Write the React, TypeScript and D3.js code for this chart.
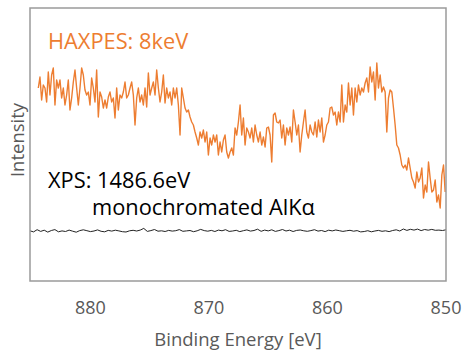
import React from "react";
import * as d3 from "d3";

// Binding energy axis
const X_DOMAIN: [number, number] = [885.1, 850];
const X_TICKS = [880, 870, 860, 850];
const Y_DOMAIN: [number, number] = [0, 273];

// HAXPES 8 keV spectrum (uniform energy grid)
const HAXPES_START = 884.4;
const HAXPES_STEP = 0.1407;
const HAXPES_VALUES = [
  193, 204, 181, 196, 193, 179, 209, 186, 206, 213,
  176, 201, 193, 201, 183, 193, 176, 186, 201, 171,
  183, 199, 211, 193, 176, 193, 213, 206, 191, 186,
  189, 176, 203, 193, 179, 211, 164, 189, 184, 173,
  181, 173, 184, 189, 179, 183, 163, 193, 171, 186,
  183, 189, 199, 183, 186,
  193, 199, 186, 156, 183, 193, 179, 186, 176, 193,
  174, 208, 186, 193, 199, 186, 211, 193, 179, 189,
  206, 178, 193, 183, 189, 176, 193, 183, 193, 176,
  146, 193, 183, 173, 169, 171, 164, 159, 156, 149,
  143, 136, 149, 143, 151, 139, 149, 126, 143, 136,
  146, 139, 146, 126, 139, 129, 141, 146, 129, 123,
  129, 133, 126, 153, 146, 159, 176, 146, 163, 136,
  153, 149, 143, 153, 139, 156, 146, 139, 149, 136,
  144, 134, 153, 154, 146, 119, 166, 168, 159, 158,
  161, 143, 156, 136, 153, 146, 154, 139, 171, 159,
  146, 156, 129, 146, 159, 171, 149, 143, 156, 149,
  146, 159, 144, 161, 149, 163, 139, 146, 156, 159,
  173, 174, 166,
  169, 156, 169, 159, 196, 159, 176, 169, 198, 176,
  193, 166, 193, 179, 196, 186, 193, 189, 198, 203,
  189, 214, 199, 209, 181, 218, 193,
  206, 189, 194, 189, 149, 183, 191, 189, 173, 156,
  136, 133, 126, 116, 113, 116, 111, 123, 113, 103,
  99, 93, 109, 99, 103, 113, 83, 96, 89, 119,
  103, 89, 91, 101, 79, 86, 73, 106, 116, 89,
];

// XPS 1486.6 eV (monochromated Al Kα) spectrum
const XPS_START = 885.1;
const XPS_STEP = 0.3;
const XPS_VALUES = [
  50.2, 49.1, 51.3, 49.6, 50.8, 48.9, 50.5, 51.4, 49.2, 50.1,
  49.5, 50.9, 49.8, 48.8, 50.4, 51.2, 50.3, 49.4, 50.0, 51.1,
  49.7, 49.2, 50.6, 49.9, 50.8, 50.1, 49.3, 49.0, 50.2, 50.7,
  50.0, 50.9, 52.6, 49.6, 50.4, 51.5, 49.8, 50.2, 49.5, 50.6,
  49.9, 50.3, 51.4, 49.7, 50.1, 50.5, 49.3, 50.2, 51.6, 50.4,
  49.8, 50.6, 49.5, 50.9, 50.2, 51.3, 49.6, 50.0, 50.7, 49.4,
  50.3, 51.1, 49.9, 50.5, 51.8, 49.7, 50.9, 50.1, 51.2, 49.6,
  50.4, 51.5, 50.0, 50.8, 49.5, 50.6, 51.0, 50.2, 49.7, 50.4,
  51.3, 49.9, 50.5, 49.4, 50.8, 50.1, 51.0, 50.3, 49.6, 50.2,
  50.7, 49.8, 50.4, 49.1, 49.5, 50.3, 49.2, 50.0, 50.6, 49.7,
  50.2, 49.4, 50.5, 51.2, 50.0, 52.0, 50.6, 51.7, 50.9, 51.9,
  50.4, 51.5, 50.8, 51.6, 50.7, 50.9, 50.5, 51.2,
];

const ANNOT_HAXPES = "HAXPES: 8keV";
const ANNOT_XPS_1 = "XPS: 1486.6eV";
const ANNOT_XPS_2 = "monochromated AlKα";
const X_TITLE = "Binding Energy [eV]";
const Y_TITLE = "Intensity";

const W = 462;
const H = 356;
const M = { left: 30, right: 446, top: 8, bottom: 281 };
const FONT = "'Open Sans', 'Noto Sans', sans-serif";
const ORANGE = "#ED7D31";
const GREY = "#595959";

export default function App() {
  const x = d3.scaleLinear().domain(X_DOMAIN).range([M.left, M.right]);
  const y = d3.scaleLinear().domain(Y_DOMAIN).range([M.bottom, M.top]);

  const haxpes: [number, number][] = HAXPES_VALUES.map((v, i) => [HAXPES_START - i * HAXPES_STEP, v]);
  const xps: [number, number][] = XPS_VALUES.map((v, i) => [XPS_START - i * XPS_STEP, v]);

  const line = d3
    .line<[number, number]>()
    .x((d) => x(d[0]))
    .y((d) => y(d[1]));

  return (
    <svg
      width={W}
      height={H}
      style={{ position: "absolute", left: 0, top: 0, background: "#fff" }}
      fontFamily={FONT}
    >
      <defs>
        <clipPath id="plotclip">
          <rect x={M.left} y={M.top} width={M.right - M.left} height={M.bottom - M.top} />
        </clipPath>
      </defs>
      <g clipPath="url(#plotclip)">
        <path d={line(xps) ?? ""} fill="none" stroke="#222" strokeWidth={1} />
        <path d={line(haxpes) ?? ""} fill="none" stroke={ORANGE} strokeWidth={1.4} strokeLinejoin="round" />
      </g>
      <rect
        x={M.left}
        y={M.top}
        width={M.right - M.left}
        height={M.bottom - M.top}
        fill="none"
        stroke="#9a9a9a"
        strokeWidth={1.5}
      />
      {X_TICKS.map((t) => (
        <text key={t} x={x(t)} y={314} textAnchor="middle" fontSize={18} fill={GREY}>
          {t}
        </text>
      ))}
      <text x={238} y={346} textAnchor="middle" fontSize={18.5} fill={GREY}>
        {X_TITLE}
      </text>
      <text transform="translate(24,140) rotate(-90)" textAnchor="middle" fontSize={18.5} fill={GREY}>
        {Y_TITLE}
      </text>
      <text x={48} y={49} fontSize={21.8} fill={ORANGE}>
        {ANNOT_HAXPES}
      </text>
      <text x={48} y={188} fontSize={21.8} fill="#000">
        {ANNOT_XPS_1}
      </text>
      <text x={92} y={215} fontSize={21.8} fill="#000">
        {ANNOT_XPS_2}
      </text>
    </svg>
  );
}
